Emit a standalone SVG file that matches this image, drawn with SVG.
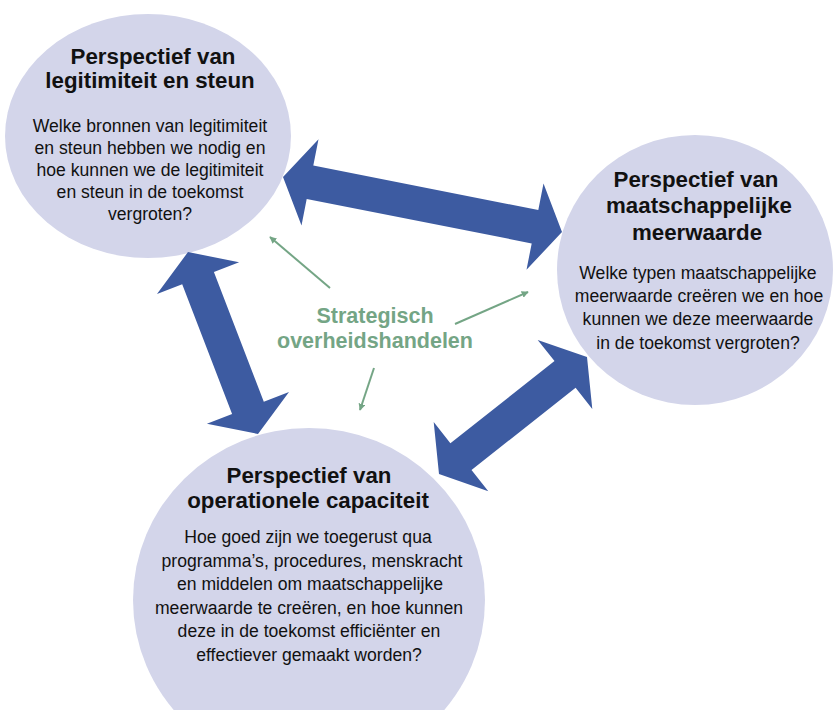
<svg xmlns="http://www.w3.org/2000/svg" width="833" height="710" viewBox="0 0 833 710">
<defs>
<style>
.circ{fill:#d3d5ea}
.t{font-family:"Liberation Sans",Arial,sans-serif;fill:#111;text-anchor:middle}
.h{font-size:22.3px;font-weight:700}
.b{font-size:17.6px}
.g{font-family:"Liberation Sans",Arial,sans-serif;fill:#74a585;font-size:21.5px;font-weight:700;text-anchor:middle}
.blue{fill:#3d5ba1}
.gl{stroke:#74a585;stroke-width:2;fill:none}
</style>
<marker id="ga" viewBox="0 0 10 10" refX="9" refY="5" markerWidth="7" markerHeight="7" markerUnits="userSpaceOnUse" orient="auto">
<path d="M0,0 L10,5 L0,10 Z" fill="#74a585"/>
</marker>
</defs>
<rect width="833" height="710" fill="#fff"/>
<g id="node-legitimiteit">
<ellipse class="circ" cx="148" cy="136" rx="143" ry="122"/>
<text class="t h"><tspan x="153" y="64">Perspectief van</tspan><tspan x="150" y="88">legitimiteit en steun</tspan></text>
<text class="t b"><tspan x="150" y="132">Welke bronnen van legitimiteit</tspan><tspan x="150" y="154">en steun hebben we nodig en</tspan><tspan x="150" y="176">hoe kunnen we de legitimiteit</tspan><tspan x="150" y="198">en steun in de toekomst</tspan><tspan x="150" y="220">vergroten?</tspan></text>
</g>
<g id="node-meerwaarde">
<ellipse class="circ" cx="695" cy="270" rx="138" ry="135"/>
<text class="t h"><tspan x="696" y="186.5">Perspectief van</tspan><tspan x="699" y="213">maatschappelijke</tspan><tspan x="697" y="239.5">meerwaarde</tspan></text>
<text class="t b"><tspan x="698" y="279">Welke typen maatschappelijke</tspan><tspan x="699" y="302">meerwaarde creëren we en hoe</tspan><tspan x="698" y="325">kunnen we deze meerwaarde</tspan><tspan x="698" y="348.5">in de toekomst vergroten?</tspan></text>
</g>
<g id="node-capaciteit">
<ellipse class="circ" cx="309" cy="600" rx="176" ry="172"/>
<text class="t h"><tspan x="309" y="483">Perspectief van</tspan><tspan x="308" y="508">operationele capaciteit</tspan></text>
<text class="t b"><tspan x="308" y="543">Hoe goed zijn we toegerust qua</tspan><tspan x="312" y="567">programma’s, procedures, menskracht</tspan><tspan x="310" y="590">en middelen om maatschappelijke</tspan><tspan x="309" y="613.5">meerwaarde te creëren, en hoe kunnen</tspan><tspan x="309" y="637">deze in de toekomst efficiënter en</tspan><tspan x="309" y="661">effectiever gemaakt worden?</tspan></text>
</g>
<g id="node-strategisch">
<text class="g"><tspan x="375" y="323">Strategisch</tspan><tspan x="375" y="348">overheidshandelen</tspan></text>
</g>
<g id="connectors">
<polygon class="blue" points="283,177 318.5,139.2 313.3,165.6 538.3,210 543.5,183.5 562,232 526.5,269.8 531.7,243.4 306.7,199 301.5,225.5"/>
<polygon class="blue" points="188,252 239.1,262.3 213.9,272 263.8,401.8 289,392.1 258,434 206.9,423.7 232.1,414 182.2,284.2 157,293.9"/>
<polygon class="blue" points="439,474 433.7,422.1 450.4,443.3 554.5,361 537.7,339.9 587,357 592.3,408.9 575.6,387.7 471.5,470 488.3,491.2"/>
<line class="gl" x1="330" y1="288" x2="270" y2="237" marker-end="url(#ga)"/>
<line class="gl" x1="455" y1="324" x2="528" y2="292" marker-end="url(#ga)"/>
<line class="gl" x1="374" y1="368" x2="360" y2="410" marker-end="url(#ga)"/>
</g>
</svg>
